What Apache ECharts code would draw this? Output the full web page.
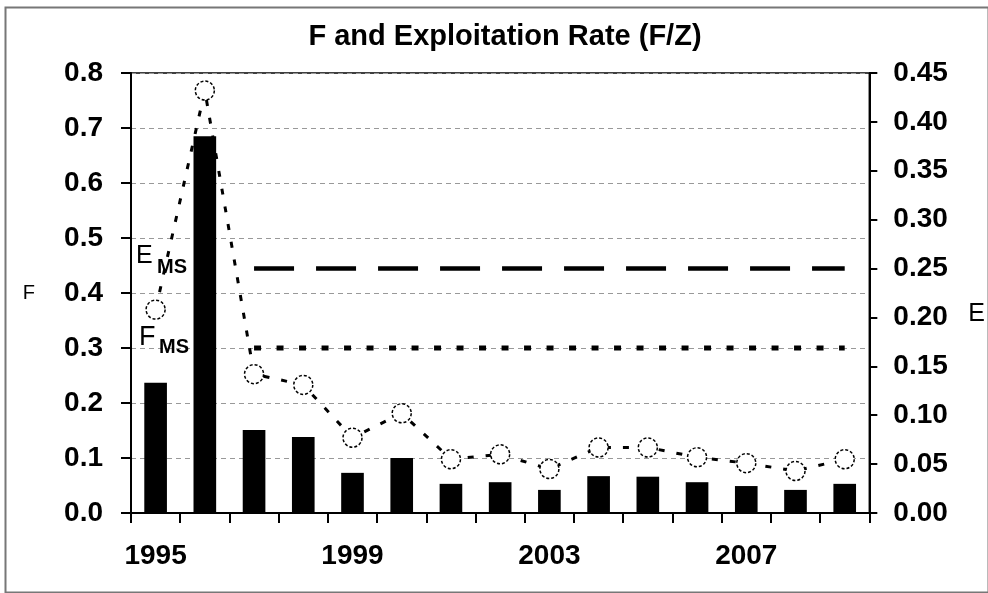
<!DOCTYPE html>
<html>
<head>
<meta charset="utf-8">
<script src="https://cdn.jsdelivr.net/npm/echarts@6/dist/echarts.min.js"></script>
<style>
html,body{margin:0;padding:0;background:#fff;}
#chart{width:988px;height:593px;}
</style>
</head>
<body>
<div id="chart"></div>
<script>
var years = ['1995','1996','1997','1998','1999','2000','2001','2002','2003','2004','2005','2006','2007','2008','2009'];
var fValues = [0.237, 0.685, 0.151, 0.138, 0.073, 0.100, 0.053, 0.056, 0.042, 0.067, 0.066, 0.056, 0.049, 0.042, 0.053];
var eValues = [0.208, 0.432, 0.142, 0.131, 0.077, 0.102, 0.055, 0.060, 0.045, 0.067, 0.067, 0.057, 0.051, 0.043, 0.055];
var eMsy = 0.25;
var fMsy = 0.3;
var refStartYear = '1997';

var FONT = "'Liberation Sans', Arial, sans-serif";
var startIdx = years.indexOf(refStartYear);
var eMsyLine = years.map(function (y, i) { return i >= startIdx ? eMsy : null; });
var fMsyLine = years.map(function (y, i) { return i >= startIdx ? fMsy : null; });

var chart = echarts.init(document.getElementById('chart'));
chart.setOption({
  backgroundColor: '#fff',
  animation: false,
  title: {
    text: 'F and Exploitation Rate (F/Z)',
    left: 500,
    textAlign: 'center',
    top: 17,
    textStyle: { fontFamily: FONT, fontSize: 29, fontWeight: 'bold', color: '#000' }
  },
  grid: {
    left: 131, right: 115, top: 73, bottom: 80,
    show: true, borderColor: '#000', borderWidth: 1.5, backgroundColor: 'transparent'
  },
  xAxis: {
    type: 'category',
    data: years,
    boundaryGap: true,
    axisLine: { lineStyle: { color: '#000', width: 2 } },
    axisTick: { show: true, interval: 0, length: 10, lineStyle: { color: '#000', width: 2 } },
    axisLabel: { interval: 3, margin: 29, fontFamily: FONT, fontSize: 28, fontWeight: 'bold', color: '#000' },
    splitLine: { show: false }
  },
  yAxis: [
    {
      type: 'value',
      min: 0, max: 0.8, interval: 0.1,
      name: 'F',
      nameLocation: 'middle',
      nameRotate: 0,
      nameGap: 96,
      nameTextStyle: { fontFamily: FONT, fontSize: 20, color: '#000' },
      axisLine: { show: true, lineStyle: { color: '#000', width: 2 } },
      axisTick: { show: true, length: 10, lineStyle: { color: '#000', width: 2 } },
      axisLabel: { margin: 28, fontFamily: FONT, fontSize: 28, fontWeight: 'bold', color: '#000',
        formatter: function (v) { return v.toFixed(1); } },
      splitLine: { show: true, lineStyle: { color: '#999', width: 1.2, type: [5, 4] } }
    },
    {
      type: 'value',
      min: 0, max: 0.45, interval: 0.05,
      position: 'right',
      name: 'E',
      nameLocation: 'middle',
      nameRotate: 0,
      nameGap: 99,
      nameTextStyle: { fontFamily: FONT, fontSize: 25, color: '#000', verticalAlign: 'top', lineHeight: 42 },
      axisLine: { show: true, lineStyle: { color: '#000', width: 2 } },
      axisTick: { show: true, length: 8, lineStyle: { color: '#000', width: 2 } },
      axisLabel: { margin: 24, fontFamily: FONT, fontSize: 28, fontWeight: 'bold', color: '#000',
        formatter: function (v) { return v.toFixed(2); } },
      splitLine: { show: false }
    }
  ],
  series: [
    {
      name: 'F',
      type: 'bar',
      yAxisIndex: 0,
      data: fValues,
      barWidth: '46%',
      itemStyle: { color: '#000' },
      z: 2
    },
    {
      name: 'Emsy',
      type: 'line',
      yAxisIndex: 1,
      data: eMsyLine,
      symbol: 'none',
      connectNulls: false,
      lineStyle: { color: '#000', width: 4.5, type: [40, 22], cap: 'butt' },
      z: 3
    },
    {
      name: 'Fmsy',
      type: 'line',
      yAxisIndex: 0,
      data: fMsyLine,
      symbol: 'none',
      connectNulls: false,
      lineStyle: { color: '#000', width: 5, type: [7, 15.5], cap: 'butt' },
      z: 3
    },
    {
      name: 'E',
      type: 'line',
      yAxisIndex: 1,
      data: eValues,
      symbol: 'circle',
      symbolSize: 19,
      showAllSymbol: true,
      lineStyle: { color: '#000', width: 3, type: [6, 12] },
      itemStyle: { color: '#fff', borderColor: '#000', borderWidth: 1.5, borderType: [3, 2] },
      z: 4
    }
  ],
  graphic: [
    { type: 'rect', left: 3, top: 5, z: -10, silent: true,
      shape: { width: 983, height: 585 },
      style: { fill: 'none', stroke: '#777', lineWidth: 2 } },
    { type: 'text', left: 136, top: 244, z: 10,
      style: { text: 'E', fontFamily: FONT, fontSize: 25, fill: '#000' } },
    { type: 'text', left: 157, top: 257, z: 10,
      style: { text: 'MS', fontFamily: FONT, fontSize: 20, fontWeight: 'bold', fill: '#000' } },
    { type: 'text', left: 139, top: 324, z: 10,
      style: { text: 'F', fontFamily: FONT, fontSize: 27, fill: '#000' } },
    { type: 'text', left: 159, top: 337, z: 10,
      style: { text: 'MS', fontFamily: FONT, fontSize: 20, fontWeight: 'bold', fill: '#000' } }
  ]
});
</script>
</body>
</html>
